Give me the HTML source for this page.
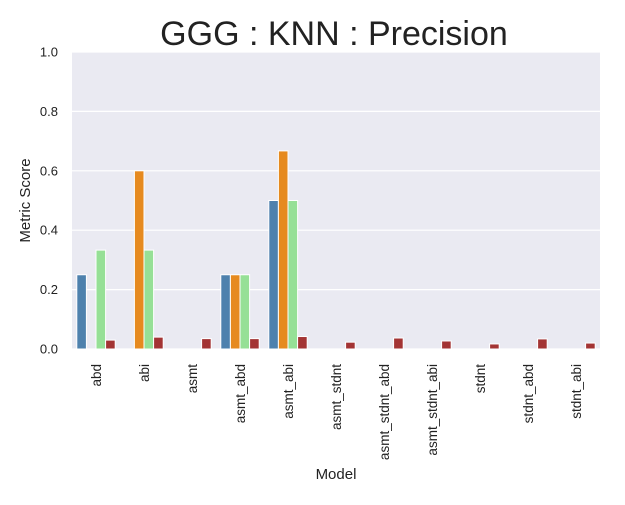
<!DOCTYPE html>
<html><head><meta charset="utf-8"><style>
body{margin:0;background:#fff;font-family:"Liberation Sans",sans-serif}
</style></head><body>
<svg id="c" width="625" height="500" xmlns="http://www.w3.org/2000/svg" font-family="Liberation Sans, sans-serif"></svg>
<script>
const categories=["abd","abi","asmt","asmt_abd","asmt_abi","asmt_stdnt","asmt_stdnt_abd","asmt_stdnt_abi","stdnt","stdnt_abd","stdnt_abi"];
const seriesBlue=[0.25,0,0,0.25,0.5,0,0,0,0,0,0];
const seriesOrange=[0,0.6,0,0.25,0.667,0,0,0,0,0,0];
const seriesGreen=[0.333,0.333,0,0.25,0.5,0,0,0,0,0,0];
const seriesBrown=[0.03,0.04,0.035,0.035,0.042,0.023,0.037,0.027,0.017,0.034,0.02];
const yTicks=[0,0.2,0.4,0.6,0.8,1.0];
const yTickLabels=["0.0","0.2","0.4","0.6","0.8","1.0"];
const colors=["#4e81ad","#e68a1f","#96e096","#a33434"];
const NS="http://www.w3.org/2000/svg";
const svg=document.getElementById('c');
const L=72,R=600,T=52,B=349;
const y=v=>B-(B-T)*v;
const bw=(R-L)/categories.length;
const x=i=>L+bw*i;
function mk(t,a){const e=document.createElementNS(NS,t);for(const k in a)e.setAttribute(k,a[k]);svg.appendChild(e);return e;}
let bg=mk('rect',{x:L,y:T,width:R-L,height:B-T,fill:'#eaeaf2'});


yTicks.forEach((v,i)=>{
 let g=mk('line',{x1:L,x2:R,y1:y(v),y2:y(v),stroke:'#fff','stroke-width':1.2});
 
 
 let t=mk('text',{x:L-14,y:y(v)+4.5,'text-anchor':'end','font-size':13,fill:'#222'});
 t.textContent=yTickLabels[i];
 
 
});
const series=[seriesBlue,seriesOrange,seriesGreen,seriesBrown];
const gw=bw*0.8,b=gw/4;
categories.forEach((c,i)=>{
 series.forEach((s,j)=>{
  const v=s[i]; if(v<=0)return;
  let r=mk('rect',{x:x(i)+bw*0.1+b*j,y:y(v),width:b,height:B-y(v),fill:colors[j],stroke:'#fff','stroke-width':1});
  
  
 });
 const cx=x(i)+bw/2;
 let t=mk('text',{x:0,y:0,'text-anchor':'end','font-size':13.5,fill:'#222',transform:`translate(${cx+5},${B+15}) rotate(-90)`});
 t.textContent=c;
 
 
});
let ti=mk('text',{x:(L+R)/2-2,y:45,'text-anchor':'middle','font-size':34,fill:'#222'});
ti.textContent="GGG : KNN : Precision";


let yl=mk('text',{x:0,y:0,'text-anchor':'middle','font-size':15,fill:'#222',transform:`translate(30,${(T+B)/2}) rotate(-90)`});
yl.textContent="Metric Score";


let xl=mk('text',{x:(L+R)/2,y:479,'text-anchor':'middle','font-size':15,fill:'#222'});
xl.textContent="Model";


</script>
</body></html>
